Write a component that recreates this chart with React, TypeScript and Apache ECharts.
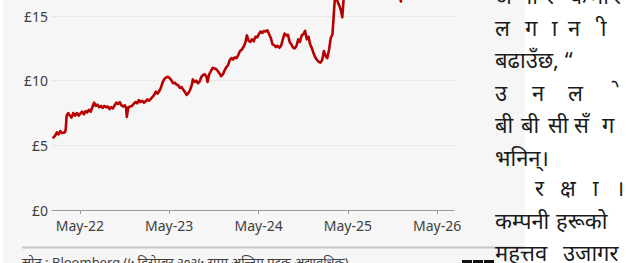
import React, { useEffect, useRef } from "react";
import * as echarts from "echarts";

// ---------- data ----------
const dates: string[] = [
  "2022-01-10","2022-01-20","2022-01-27","2022-02-03","2022-02-10","2022-02-17","2022-02-28","2022-03-04","2022-03-08","2022-03-14",
  "2022-03-21","2022-03-28","2022-04-04","2022-04-11","2022-04-19","2022-04-26","2022-05-03","2022-05-10","2022-05-17","2022-05-24",
  "2022-05-31","2022-06-07","2022-06-14","2022-06-21","2022-06-28","2022-07-05","2022-07-12","2022-07-19","2022-07-26","2022-08-02",
  "2022-08-09","2022-08-16","2022-08-23","2022-08-30","2022-09-06","2022-09-13","2022-09-20","2022-09-27","2022-10-04","2022-10-11",
  "2022-10-18","2022-10-25","2022-11-01","2022-11-06","2022-11-09","2022-11-12","2022-11-16","2022-11-23","2022-11-30","2022-12-07",
  "2022-12-14","2022-12-21","2022-12-28","2023-01-04","2023-01-11","2023-01-18","2023-01-25","2023-02-01","2023-02-08","2023-02-15",
  "2023-02-22","2023-03-01","2023-03-08","2023-03-15","2023-03-22","2023-03-29","2023-04-05","2023-04-12","2023-04-19","2023-04-26",
  "2023-05-03","2023-05-10","2023-05-17","2023-05-24","2023-05-31","2023-06-07","2023-06-14","2023-06-21","2023-06-28","2023-07-05",
  "2023-07-12","2023-07-19","2023-07-26","2023-08-02","2023-08-06","2023-08-13","2023-08-20","2023-08-27","2023-09-03","2023-09-10",
  "2023-09-17","2023-09-24","2023-10-01","2023-10-05","2023-10-12","2023-10-19","2023-10-26","2023-11-02","2023-11-09","2023-11-16",
  "2023-11-23","2023-11-30","2023-12-07","2023-12-14","2023-12-21","2023-12-28","2024-01-04","2024-01-11","2024-01-18","2024-01-25",
  "2024-02-01","2024-02-08","2024-02-15","2024-02-22","2024-02-29","2024-03-07","2024-03-14","2024-03-21","2024-03-28","2024-04-04",
  "2024-04-11","2024-04-18","2024-04-25","2024-05-02","2024-05-09","2024-05-16","2024-05-23","2024-05-30","2024-06-06","2024-06-13",
  "2024-06-20","2024-06-27","2024-07-04","2024-07-11","2024-07-18","2024-07-25","2024-08-01","2024-08-08","2024-08-15","2024-08-22",
  "2024-08-29","2024-09-05","2024-09-12","2024-09-19","2024-09-26","2024-10-03","2024-10-10","2024-10-17","2024-10-24","2024-10-31",
  "2024-11-07","2024-11-14","2024-11-21","2024-11-28","2024-12-05","2024-12-12","2024-12-19","2024-12-26","2025-01-02","2025-01-09",
  "2025-01-16","2025-01-23","2025-01-30","2025-02-06","2025-02-13","2025-02-20","2025-02-27","2025-03-03","2025-03-06","2025-03-10",
  "2025-03-14","2025-03-20","2025-03-27","2025-04-03","2025-04-08","2025-04-14","2025-04-22","2025-05-01","2025-05-12","2025-05-22",
  "2025-06-02","2025-06-12","2025-06-23","2025-07-03","2025-07-14","2025-07-24","2025-08-04","2025-08-14","2025-08-26","2025-09-05",
  "2025-09-16","2025-09-26","2025-10-07","2025-10-17","2025-10-28","2025-11-07","2025-11-18","2025-11-26","2025-12-02","2025-12-05",
];

const prices: number[] = [
  5.55, 5.75, 6.0, 5.85, 6.1, 5.95, 6.0, 6.2, 7.3, 7.5,
  7.3, 7.15, 7.5, 7.3, 7.5, 7.3, 7.45, 7.6, 7.4, 7.65,
  7.55, 7.75, 7.6, 7.95, 8.3, 8.05, 8.15, 7.95, 8.05, 7.9,
  8.05, 7.95, 8.0, 7.8, 7.95, 7.85, 8.1, 8.3, 8.2, 8.35,
  8.1, 8.0, 8.1, 7.9, 7.2, 7.6, 7.95, 8.0, 8.05, 8.2,
  8.35, 8.25, 8.5, 8.35, 8.45, 8.3, 8.4, 8.55, 8.45, 8.6,
  8.75, 8.9, 9.15, 9.0, 9.2, 9.5, 9.9, 10.15, 10.25, 10.3,
  10.2, 10.05, 9.8, 9.85, 9.7, 9.65, 9.45, 9.5, 9.3, 9.1,
  8.9, 9.05, 9.3, 9.7, 10.1, 9.9, 10.0, 9.8, 9.95, 10.3,
  10.45, 10.5, 10.3, 9.9, 10.5, 10.75, 11.0, 10.95, 10.9, 10.75,
  10.55, 10.35, 10.5, 10.8, 11.05, 11.2, 11.6, 11.75, 11.65, 11.8,
  11.75, 12.0, 12.3, 12.4, 12.6, 12.9, 13.5, 13.1, 13.0, 13.2,
  13.05, 13.4, 13.35, 13.6, 13.8, 13.7, 13.85, 13.8, 13.9, 13.6,
  13.3, 12.8, 12.75, 12.6, 12.7, 12.55, 12.7, 13.2, 13.65, 13.5,
  13.55, 13.0, 12.8, 12.55, 12.5, 12.7, 13.2, 13.0, 13.5, 13.6,
  13.85, 13.2, 13.4, 12.8, 12.5, 12.1, 11.8, 11.6, 11.45, 11.4,
  11.6, 12.3, 11.9, 11.75, 12.4, 13.3, 13.6, 14.7, 15.6, 16.6,
  16.8, 16.1, 15.8, 15.4, 14.9, 16.4, 17.3, 17.9, 18.6, 18.9,
  19.3, 19.6, 19.0, 18.7, 18.4, 18.0, 17.9, 18.4, 18.7, 19.1,
  19.6, 19.8, 19.4, 19.0, 18.3, 17.6, 17.1, 16.7, 16.3, 16.05,
];

const xAxisStart = "2022-01-07";
const xAxisEnd = "2026-07-09";
const xTickDates = ["2022-05-01", "2023-05-01", "2024-05-01", "2025-05-01", "2026-05-01"];
const xTickLabels = ["May-22", "May-23", "May-24", "May-25", "May-26"];
const yMin = 0;
const yMax = 20;
const yStep = 5;
const currency = "£";

const sourceText = "स्रोत : Bloomberg (५ डिसेम्बर २०२५ सम्म अन्तिम पटक अद्यावधिक)";

// article text beside the chart, split into the pieces that are spread across each justified line
const articleLines: string[][] = [
  ["अ", "ना", "र", "क", "मा", "र"],
  ["ल", "ग", "ा", "न", "ी"],
  ["बढाउँछ, “"],
  ["उ", "न", "ल", "े"],
  ["बी", "बी", "सी", "सँ", "ग"],
  ["भनिन्।"],
  ["र", "क्ष", "ा", "।"],
  ["कम्पनी", "हरूको"],
  ["महत्तव", "उजागर"],
];

// ---------- layout (page pixels) ----------
const W = 626;
const H = 263;
const SHIFT = 60; // chart div is moved up so the plot continues above the page top
const articleX: number[][] = [
  [495, 520, 545, 570, 590, 612],
  [495, 525, 551, 568, 600],
  [495],
  [495, 532, 568, 620],
  [495, 521, 548, 574, 602],
  [495],
  [535, 560, 592, 616],
  [495, 556],
  [495, 563],
];
const articleMid = [-5, 27, 59, 92, 124, 157, 187, 220, 252];

const ts = (d: string) => Date.parse(d + "T00:00:00Z");
const isMark = (s: string) => /^[\u093E-\u094D\u0900-\u0903\u0962\u0963]$/.test(s);

export default function App() {
  const ref = useRef<HTMLDivElement>(null);

  useEffect(() => {
    if (!ref.current) return;
    const chart = echarts.init(ref.current, null, { renderer: "svg" });
    const data = dates.map((d, i) => [ts(d), prices[i]]);
    const tickVals = xTickDates.map(ts);

    const graphic: any[] = [];
    graphic.push({
      type: "line",
      shape: { x1: 22, y1: 247.5 + SHIFT, x2: 525, y2: 247.5 + SHIFT },
      style: { stroke: "#c6c6c6", lineWidth: 2 },
      silent: true,
    });
    graphic.push({
      type: "text",
      x: 22,
      y: 262 + SHIFT,
      style: {
        text: sourceText,
        fill: "#404040",
        fontSize: 13,
        fontFamily: "'Noto Sans', sans-serif",
        verticalAlign: "middle",
        align: "left",
      },
      silent: true,
    });
    ["B", "B", "C"].forEach((ch, i) => {
      graphic.push({
        type: "rect",
        shape: { x: 462 + i * 11, y: 260 + SHIFT, width: 10, height: 10 },
        style: { fill: "#111" },
        silent: true,
      });
      graphic.push({
        type: "text",
        x: 467 + i * 11,
        y: 265 + SHIFT,
        style: { text: ch, fill: "#fff", fontSize: 8, fontWeight: "bold", fontFamily: "'Noto Sans', sans-serif", align: "center", verticalAlign: "middle" },
        silent: true,
      });
    });
    articleLines.forEach((parts, li) => {
      parts.forEach((p, pi) => {
        const mark = isMark(p);
        graphic.push({
          type: "text",
          x: articleX[li][pi] - (mark ? 5 : 0),
          y: articleMid[li] + SHIFT,
          style: {
            text: mark ? "\u00A0" + p : p,
            fill: "#1a1a1a",
            fontSize: 22,
            fontFamily: "'Noto Sans', sans-serif",
            align: "left",
            verticalAlign: "middle",
          },
          silent: true,
        });
      });
    });

    chart.setOption({
      animation: false,
      backgroundColor: "transparent",
      grid: { left: 52, right: W - 454, top: 11.4, bottom: H + SHIFT - 270 },
      xAxis: {
        type: "value",
        min: ts(xAxisStart),
        max: ts(xAxisEnd),
        axisLine: { show: true, onZero: false, lineStyle: { color: "#9a9a9a", width: 1 } },
        axisTick: { show: true, customValues: tickVals, length: 4, lineStyle: { color: "#9a9a9a", width: 1 } },
        axisLabel: {
          customValues: tickVals,
          formatter: (v: number) => {
            const i = tickVals.findIndex((t) => Math.abs(t - v) < 1000);
            return i >= 0 ? xTickLabels[i] : "";
          },
          color: "#404040",
          fontSize: 14,
          fontFamily: "'Noto Sans', sans-serif",
          margin: 8,
        },
        splitLine: { show: false },
      },
      yAxis: {
        type: "value",
        min: yMin,
        max: yMax,
        interval: yStep,
        axisLine: { show: false },
        axisTick: { show: false },
        axisLabel: {
          formatter: (v: number) => currency + v,
          color: "#404040",
          fontSize: 14,
          fontFamily: "'Noto Sans', sans-serif",
          margin: 4,
        },
        splitLine: { lineStyle: { color: "#e8e8e8", width: 1 } },
      },
      series: [
        {
          type: "line",
          data,
          symbol: "none",
          showSymbol: false,
          clip: true,
          lineStyle: { color: "#b80000", width: 2.6, join: "round" },
          z: 3,
        },
      ],
      graphic,
    });

    return () => chart.dispose();
  }, []);

  return (
    <div style={{ position: "fixed", left: 0, top: 0, width: W, height: H, overflow: "hidden", background: "#ffffff" }}>
      <div style={{ position: "absolute", left: 3, top: 0, width: 522, height: H, background: "#f6f6f6" }} />
      <div ref={ref} style={{ position: "absolute", left: 0, top: -SHIFT, width: W, height: H + SHIFT }} />
    </div>
  );
}
